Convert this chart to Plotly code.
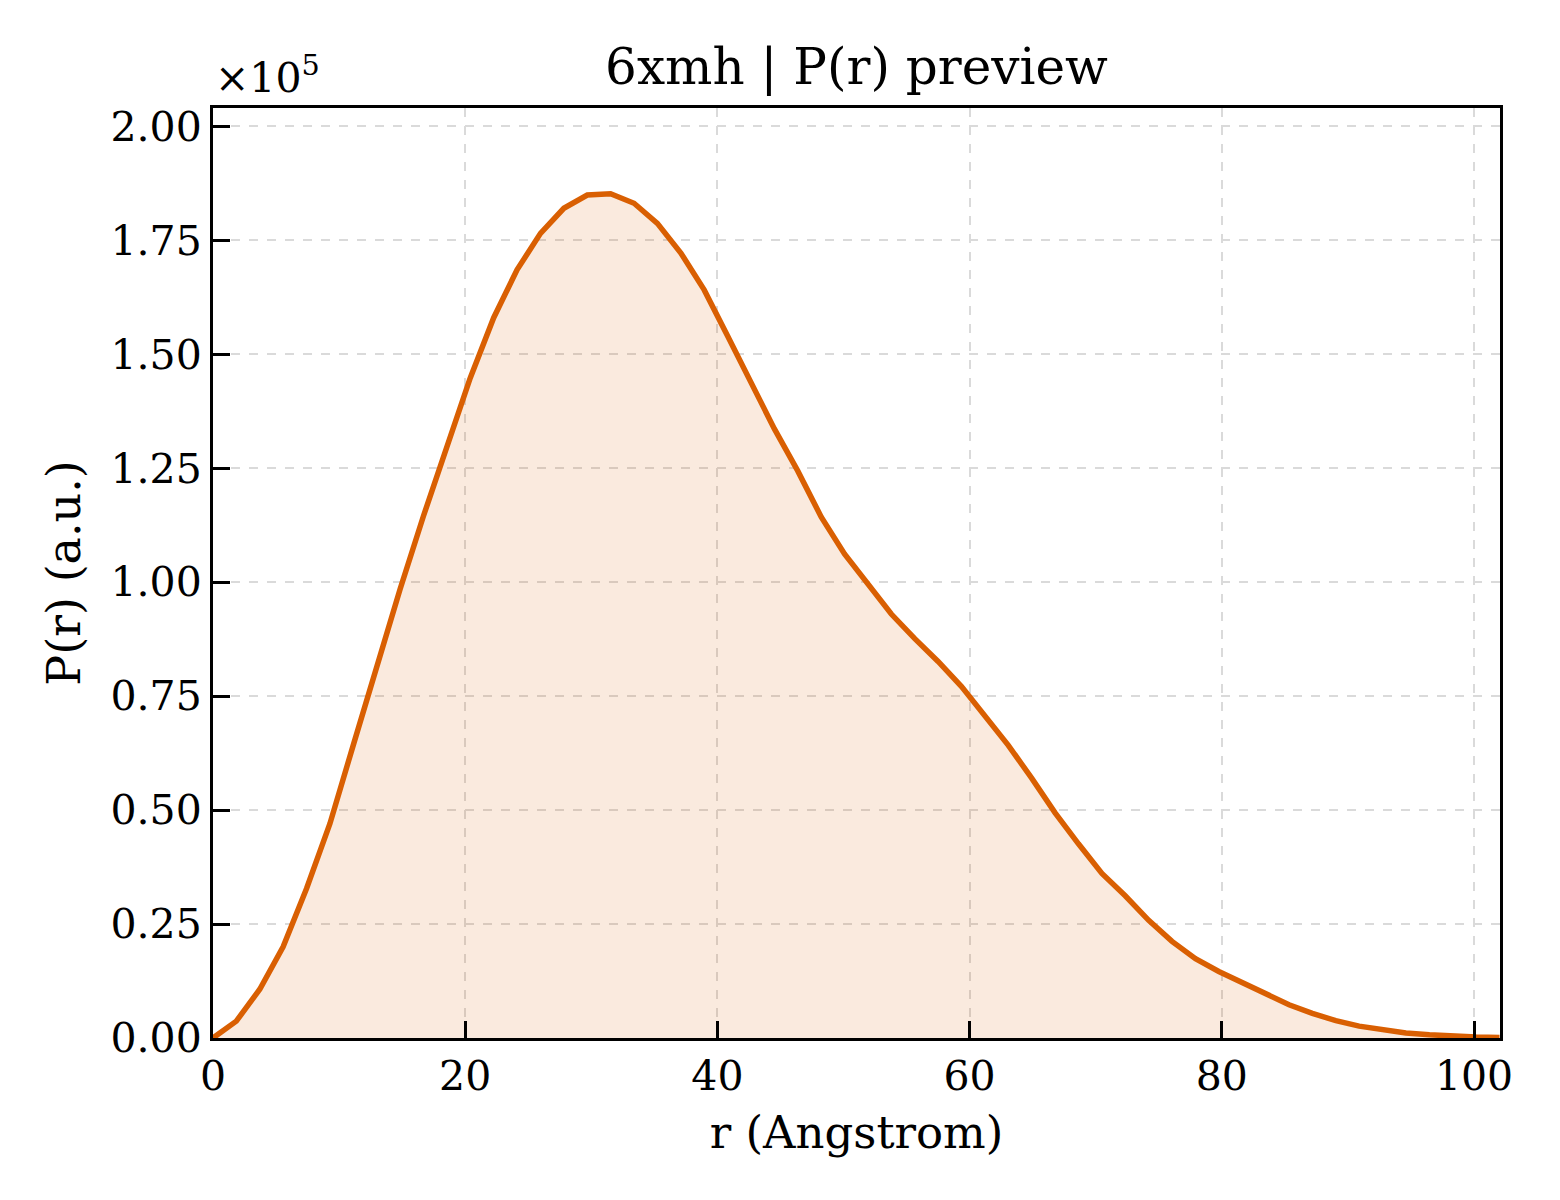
import plotly.graph_objects as go

# P(r) preview for 6xmh: distance r (Angstrom) vs P(r) (a.u.)
r_angstrom = [
    0.00, 1.85, 3.71, 5.56, 7.42, 9.27, 11.13, 12.98, 14.84, 16.69,
    18.55, 20.40, 22.26, 24.11, 25.97, 27.82, 29.68, 31.53, 33.39, 35.24,
    37.10, 38.95, 40.81, 42.66, 44.52, 46.37, 48.23, 50.08, 51.94, 53.79,
    55.65, 57.50, 59.36, 61.21, 63.07, 64.92, 66.78, 68.63, 70.49, 72.34,
    74.20, 76.05, 77.91, 79.76, 81.62, 83.47, 85.33, 87.18, 89.04, 90.89,
    92.75, 94.60, 96.46, 98.31, 100.17, 102.02,
]
p_r = [
    0, 3700, 10700, 20000, 32800, 47000, 64300, 81500, 98500, 114500,
    130000, 144800, 158000, 168500, 176500, 182000, 184900, 185200, 183100, 178700,
    172200, 164100, 154000, 143500, 133600, 124400, 114300, 106200, 99600, 93000,
    87600, 82600, 77100, 70800, 64200, 57000, 49400, 42600, 36100, 31200,
    25800, 21200, 17400, 14600, 12100, 9600, 7300, 5400, 3800, 2600,
    1700, 1100, 700, 400, 200, 100,
]
y_ticks = [0.0, 0.25, 0.5, 0.75, 1.0, 1.25, 1.5, 1.75, 2.0]
x_ticks = [0, 20, 40, 60, 80, 100]

scale = 1e5
p_scaled = [v / scale for v in p_r]

FONT = "DejaVu Serif"
LINE = "#d95f02"

fig = go.Figure()
fig.add_trace(go.Scatter(
    x=r_angstrom, y=p_scaled, mode="lines",
    line=dict(color=LINE, width=5.5),
    fill="tozeroy", fillcolor="rgba(217,95,2,0.13)",
    showlegend=False,
))

axis_common = dict(
    showline=True, linecolor="black", linewidth=3, mirror=True,
    ticks="inside", ticklen=17, tickwidth=2.5, tickcolor="black",
    showgrid=True, gridcolor="#dadada", gridwidth=1.5, griddash="dash",
    zeroline=False, tickfont=dict(family=FONT, size=41, color="black"),
)

fig.update_xaxes(
    range=[0, 102.06], tickvals=x_ticks,
    title=dict(text="r (Angstrom)", font=dict(family=FONT, size=45, color="black"), standoff=18),
    **axis_common,
)
fig.update_yaxes(
    range=[0, 2.04], tickvals=y_ticks, tickformat=".2f",
    title=dict(text="P(r) (a.u.)", font=dict(family=FONT, size=46, color="black"), standoff=16),
    **axis_common,
)

fig.add_annotation(
    text="×10<sup>5</sup>", xref="paper", yref="paper", x=0, y=1,
    xanchor="left", yanchor="bottom", yshift=4, showarrow=False,
    font=dict(family=FONT, size=41, color="black"),
)

fig.update_layout(
    width=1560, height=1200,
    margin=dict(l=205, r=68, t=100, b=170),
    paper_bgcolor="white", plot_bgcolor="white",
    title=dict(text="6xmh | P(r) preview", x=0.5, xref="paper", y=1, yref="paper",
               yanchor="bottom", pad=dict(b=24),
               font=dict(family=FONT, size=50, color="black")),
)

fig.write_html("out.html")
